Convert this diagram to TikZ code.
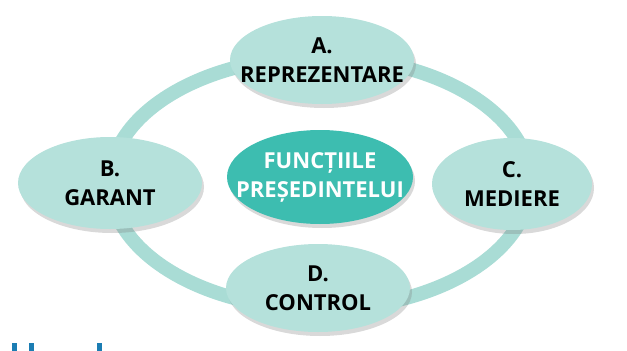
\documentclass[tikz,border=0pt]{standalone}
\usepackage{fontspec}
\setmainfont{Open Sans}
\usetikzlibrary{shapes,shadows}

\definecolor{ringcol}{HTML}{A9DCD5}
\definecolor{petal}{HTML}{B5E1DB}
\definecolor{core}{HTML}{3DBDB0}
\definecolor{headblue}{HTML}{1B7DB3}

\begin{document}
\begin{tikzpicture}
  [
    x=1pt, y=-1pt,
    ring/.style =
      {draw=ringcol, line width=14pt, ellipse, inner sep=0pt},
    petalbox/.style =
      {ellipse, fill=petal, align=center, inner xsep=-24pt, inner ysep=0pt,
       font=\fontsize{22}{29}\selectfont\bfseries,
       drop shadow={opacity=0.3, shadow xshift=2pt, shadow yshift=-4pt}},
    corebox/.style =
      {petalbox, fill=core, text=white}
  ]

\useasboundingbox (0,0) rectangle (627,351);

\node[ring, minimum width=420pt, minimum height=252pt] (ring) at (320,183) {};

\node[petalbox, minimum width=184pt, minimum height=88pt] (a) at (322,60) {A.\\REPREZENTARE};
\node[petalbox, minimum width=184pt, minimum height=92pt] (b) at (110,183) {B.\\GARANT};
\node[petalbox, minimum width=160pt, minimum height=92pt] (c) at (512,184) {C.\\MEDIERE};
\node[petalbox, minimum width=184pt, minimum height=88pt] (d) at (318,288) {D.\\CONTROL};

\node[corebox, minimum width=186pt, minimum height=94pt] (f) at (320,177) {FUNCȚIILE\\PREȘEDINTELUI};

% cut-off heading at the bottom
\fill[headblue] (12,343) rectangle (17,351);
\fill[headblue] (29,343) rectangle (34,351);
\fill[headblue] (97,343) rectangle (102,351);

\end{tikzpicture}
\end{document}
